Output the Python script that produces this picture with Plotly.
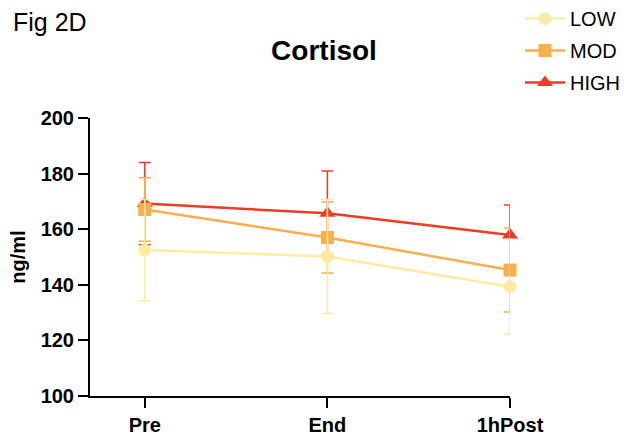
import plotly.graph_objects as go

timepoints = ["Pre", "End", "1hPost"]
groups = ["LOW", "MOD", "HIGH"]
low_mean = [152.5, 150.2, 139.3]
low_sd = [18.2, 20.5, 17.0]
mod_mean = [167.1, 157.0, 145.3]
mod_sd = [11.4, 12.8, 15.1]
high_mean = [169.2, 165.7, 157.9]
high_sd = [14.8, 15.2, 10.8]
colors = {"LOW": "#FDEBA2", "MOD": "#FCAE4E", "HIGH": "#EE3B26"}
symbols = {"LOW": "circle", "MOD": "square", "HIGH": "triangle-up"}
data = {"LOW": (low_mean, low_sd), "MOD": (mod_mean, mod_sd), "HIGH": (high_mean, high_sd)}

FONT = "Liberation Sans, Arial, sans-serif"
fig = go.Figure()
xs = list(range(len(timepoints)))
for rank, g in reversed(list(enumerate(groups))):
    m, s = data[g]
    fig.add_trace(go.Scatter(
        x=xs, y=m, name=g, mode="lines+markers", legendgroup=g, legendrank=rank + 1,
        line=dict(color=colors[g], width=2.5),
        marker=dict(symbol=symbols[g], size=13 if g != "HIGH" else 14, color=colors[g]),
        error_y=dict(type="data", array=s, visible=True, color=colors[g], thickness=1.5, width=6),
        cliponaxis=False,
    ))

L, R, T, B = 90, 121, 118, 41
PW, PH = 631 - L - R, 437 - T - B
fig.update_layout(
    width=631, height=437,
    margin=dict(l=L, r=R, t=T, b=B, autoexpand=False),
    paper_bgcolor="white", plot_bgcolor="white",
    font=dict(family=FONT, color="black"),
    title=dict(text="<b>Cortisol</b>", x=324 / 631, xanchor="center", y=1 - 50 / 437, yanchor="middle",
               font=dict(size=28, family=FONT, color="black")),
    legend=dict(x=(520 - L) / PW, xanchor="left", y=1 + (T + 1) / PH, yanchor="top",
                font=dict(size=20, family=FONT), itemwidth=40, traceorder="grouped",
                bgcolor="rgba(0,0,0,0)", tracegroupgap=3),
    xaxis=dict(range=[-0.3, 2.0], tickmode="array", tickvals=xs, ticktext=timepoints,
               showline=True, linecolor="black", linewidth=2, ticks="outside", ticklen=10,
               tickwidth=2, tickcolor="black", showgrid=False, zeroline=False, automargin=False,
               tickfont=dict(size=20, family=FONT, color="black", weight="bold")),
    yaxis=dict(range=[100, 200], tickvals=[100, 120, 140, 160, 180, 200],
               showline=True, linecolor="black", linewidth=2, ticks="outside", ticklen=10,
               tickwidth=2, tickcolor="black", showgrid=False, zeroline=False, automargin=False,
               tickfont=dict(size=20, family=FONT, color="black", weight="bold"),
               title=dict(text="<b>ng/ml</b>", font=dict(size=20, family=FONT), standoff=10)),
    annotations=[dict(text="Fig 2D", xref="paper", yref="paper", x=-(L - 11) / PW, y=1 + (T - 22) / PH,
                      xanchor="left", yanchor="middle", showarrow=False, font=dict(size=25, family=FONT))],
)
fig.write_html("out.html")
